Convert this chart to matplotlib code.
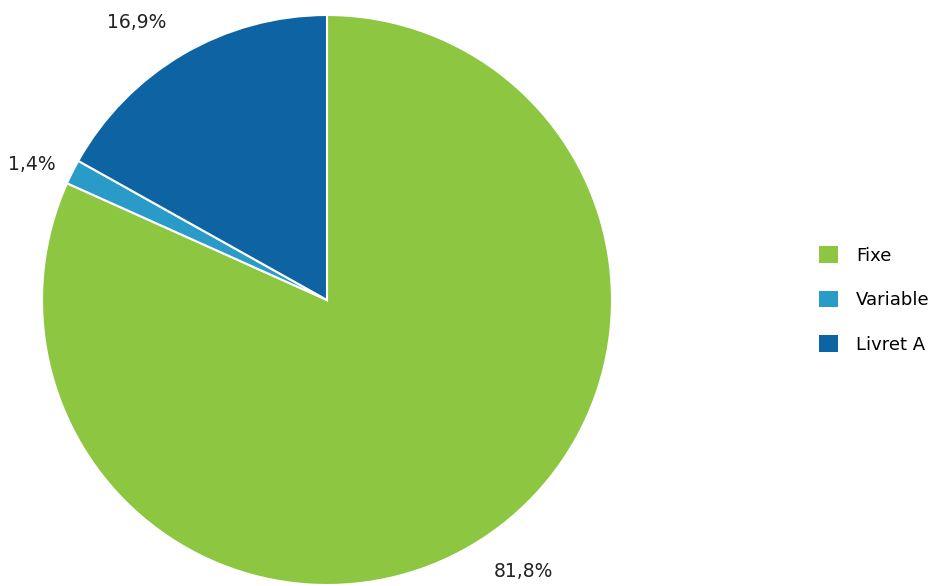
import matplotlib
matplotlib.use("Agg")
import matplotlib.pyplot as plt
import numpy as np
from matplotlib.patches import Patch

categories = ["Fixe", "Variable", "Livret A"]
values = [81.8, 1.4, 16.9]
pct_labels = ["81,8%", "1,4%", "16,9%"]
colors = ["#8dc640", "#2a9bc9", "#0e64a2"]

# label placement tweaks (angle offset in degrees, radial distance)
label_offsets = [3.0, 2.0, 4.0]
label_radii = [1.175, 1.14, 1.18]

fig = plt.figure(figsize=(9.38, 5.86), dpi=100)
ax = fig.add_axes([42/938, 1/586, 570/938, 570/586])
wedges, _ = ax.pie(values, colors=colors, startangle=90,
                   counterclock=False,
                   wedgeprops=dict(edgecolor="white", linewidth=1.5))
for w, lab, off, r in zip(wedges, pct_labels, label_offsets, label_radii):
    mid = np.deg2rad((w.theta1 + w.theta2) / 2 + off)
    ax.text(r * np.cos(mid), r * np.sin(mid), lab, ha="center", va="center",
            fontsize=13.5, color="#222222", clip_on=False)
ax.set_aspect("equal")
ax.set_xlim(-1, 1)
ax.set_ylim(-1, 1)

handles = [Patch(facecolor=c, edgecolor="none") for c in colors]
fig.legend(handles, categories, loc="center left", bbox_to_anchor=(803/938, 1 - 300/586),
           frameon=False, fontsize=13, handlelength=1.05, handleheight=1.05,
           labelspacing=1.45, handletextpad=1.0)

fig.savefig("out.png", dpi=100)
